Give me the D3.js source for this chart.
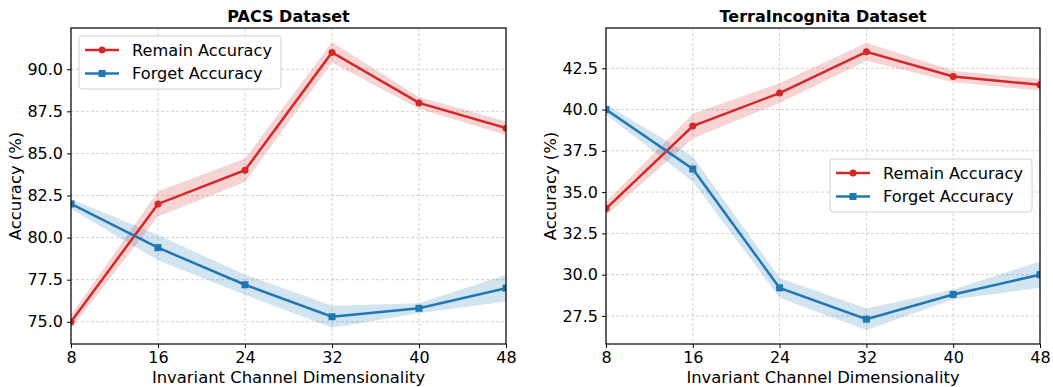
<!DOCTYPE html>
<html>
<head>
<meta charset="utf-8">
<script src="https://cdn.jsdelivr.net/npm/d3@7"></script>
<style>
  body { margin: 0; background: #fff; }
  svg text { font-family: "DejaVu Sans", sans-serif; fill: #000; }
  .grid line { stroke: #b0b0b0; stroke-dasharray: 3,2; stroke-width: 0.8; opacity: 0.7; }
</style>
</head>
<body>
<svg id="chart" width="1053" height="387"></svg>
<script>
// x values (invariant channel dimensionality)
const dims = [8, 16, 24, 32, 40, 48];

// PACS
const pacsRemain = [75.0, 82.0, 84.0, 91.0, 88.0, 86.5];
const pacsRemainStd = [0.4, 0.75, 0.7, 0.6, 0.35, 0.4];
const pacsForget = [82.0, 79.4, 77.2, 75.3, 75.8, 77.0];
const pacsForgetStd = [0.3, 0.75, 0.6, 0.65, 0.3, 0.8];
const pacsTicks = [75.0, 77.5, 80.0, 82.5, 85.0, 87.5, 90.0];

// TerraIncognita
const terraRemain = [34.0, 39.0, 41.0, 43.5, 42.0, 41.5];
const terraRemainStd = [0.4, 0.75, 0.6, 0.55, 0.35, 0.35];
const terraForget = [40.0, 36.4, 29.2, 27.3, 28.8, 30.0];
const terraForgetStd = [0.3, 0.75, 0.6, 0.65, 0.3, 0.8];
const terraTicks = [27.5, 30.0, 32.5, 35.0, 37.5, 40.0, 42.5];

const red = "#d62728", blue = "#1f77b4";

const svg = d3.select("#chart");

function drawPanel(opt) {
  const left = opt.left, right = opt.right, top = 28, bottom = 344;
  const g = svg.append("g");

  const x = d3.scaleLinear().domain([8, 48]).range([left, right]);
  const y = d3.scaleLinear().domain(opt.yDomain).range([bottom, top]);

  // grid
  const grid = g.append("g").attr("class", "grid");
  grid.selectAll(".gx").data(dims).join("line")
    .attr("x1", d => x(d)).attr("x2", d => x(d))
    .attr("y1", top).attr("y2", bottom);
  grid.selectAll(".gy").data(opt.ticks).join("line")
    .attr("x1", left).attr("x2", right)
    .attr("y1", d => y(d)).attr("y2", d => y(d));

  const area = d3.area()
    .x((d, i) => x(dims[i]))
    .y0(d => y(d[0] - d[1]))
    .y1(d => y(d[0] + d[1]));
  const line = d3.line().x((d, i) => x(dims[i])).y(d => y(d));

  const clipId = "clip" + left;
  g.append("clipPath").attr("id", clipId).append("rect")
    .attr("x", left).attr("y", top).attr("width", right - left).attr("height", bottom - top);
  const plot = g.append("g").attr("clip-path", `url(#${clipId})`);

  const series = [
    { vals: opt.remain, std: opt.remainStd, color: red, marker: "circle" },
    { vals: opt.forget, std: opt.forgetStd, color: blue, marker: "square" }
  ];

  series.forEach(s => {
    plot.append("path")
      .datum(s.vals.map((v, i) => [v, s.std[i]]))
      .attr("fill", s.color).attr("fill-opacity", 0.2)
      .attr("d", area);
  });
  series.forEach(s => {
    plot.append("path").datum(s.vals)
      .attr("fill", "none").attr("stroke", s.color).attr("stroke-width", 2.5)
      .attr("d", line);
    if (s.marker === "circle") {
      plot.selectAll(null).data(s.vals).join("circle")
        .attr("cx", (d, i) => x(dims[i])).attr("cy", d => y(d))
        .attr("r", 3.5).attr("fill", s.color);
    } else {
      plot.selectAll(null).data(s.vals).join("rect")
        .attr("x", (d, i) => x(dims[i]) - 3.5).attr("y", d => y(d) - 3.5)
        .attr("width", 7).attr("height", 7).attr("fill", s.color);
    }
  });

  // axes
  const xAxis = g.append("g").attr("transform", `translate(0,${bottom})`)
    .call(d3.axisBottom(x).tickValues(dims).tickSize(4).tickPadding(4));
  const yAxis = g.append("g").attr("transform", `translate(${left},0)`)
    .call(d3.axisLeft(y).tickValues(opt.ticks).tickFormat(d3.format(".1f")).tickSize(4).tickPadding(4));
  [xAxis, yAxis].forEach(a => {
    a.select(".domain").remove();
    a.selectAll("line").attr("stroke", "#000").attr("stroke-width", 1);
    a.selectAll("text").attr("font-size", 16).attr("font-family", "DejaVu Sans");
  });

  // frame
  g.append("rect").attr("x", left).attr("y", top)
    .attr("width", right - left).attr("height", bottom - top)
    .attr("fill", "none").attr("stroke", "#000").attr("stroke-width", 1.2);

  // labels
  g.append("text").attr("x", (left + right) / 2).attr("y", 22)
    .attr("text-anchor", "middle").attr("font-size", 16).attr("font-weight", "bold")
    .text(opt.title);
  g.append("text").attr("x", (left + right) / 2).attr("y", 383)
    .attr("text-anchor", "middle").attr("font-size", 16.4)
    .text("Invariant Channel Dimensionality");
  g.append("text")
    .attr("transform", `translate(${opt.yLabelX},${(top + bottom) / 2}) rotate(-90)`)
    .attr("text-anchor", "middle").attr("font-size", 16.4)
    .text("Accuracy (%)");

  // legend
  const lg = g.append("g").attr("transform", `translate(${opt.legend[0]},${opt.legend[1]})`);
  lg.append("rect").attr("x", 0).attr("y", 0).attr("width", opt.legend[2]).attr("height", 53)
    .attr("rx", 3).attr("fill", "#fff").attr("fill-opacity", 0.8)
    .attr("stroke", "#d0d0d0").attr("stroke-width", 1);
  const labels = ["Remain Accuracy", "Forget Accuracy"];
  series.forEach((s, i) => {
    const cy = 14 + i * 23.5;
    lg.append("line").attr("x1", 6).attr("x2", 40).attr("y1", cy).attr("y2", cy)
      .attr("stroke", s.color).attr("stroke-width", 2.5);
    if (s.marker === "circle") {
      lg.append("circle").attr("cx", 23).attr("cy", cy).attr("r", 3.5).attr("fill", s.color);
    } else {
      lg.append("rect").attr("x", 19.5).attr("y", cy - 3.5).attr("width", 7).attr("height", 7).attr("fill", s.color);
    }
    lg.append("text").attr("x", 53).attr("y", cy).attr("dy", "0.35em")
      .attr("font-size", 16.2).text(labels[i]);
  });
}

drawPanel({
  left: 71, right: 506, yDomain: [73.68, 92.45], ticks: pacsTicks,
  remain: pacsRemain, remainStd: pacsRemainStd, forget: pacsForget, forgetStd: pacsForgetStd,
  title: "PACS Dataset", yLabelX: 21, legend: [79, 36, 202]
});
drawPanel({
  left: 606, right: 1040, yDomain: [25.80, 44.94], ticks: terraTicks,
  remain: terraRemain, remainStd: terraRemainStd, forget: terraForget, forgetStd: terraForgetStd,
  title: "TerraIncognita Dataset", yLabelX: 556, legend: [830, 159, 202]
});
</script>
</body>
</html>
